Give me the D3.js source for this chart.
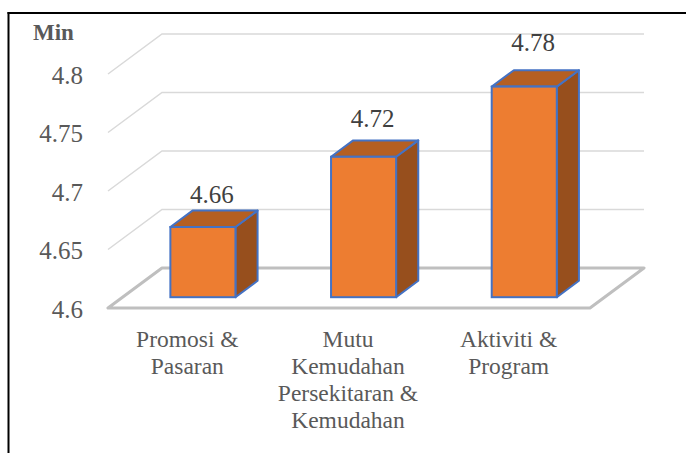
<!DOCTYPE html>
<html>
<head>
<meta charset="utf-8">
<script src="https://cdn.jsdelivr.net/npm/d3@7"></script>
<style>
  body { margin: 0; background: #fff; }
</style>
</head>
<body>
<div id="graph"></div>
<script>
// Data
const categories = [
  ["Promosi &", "Pasaran"],
  ["Mutu", "Kemudahan", "Persekitaran &", "Kemudahan"],
  ["Aktiviti &", "Program"]
];
const values = [4.66, 4.72, 4.78];
const yTicks = [4.6, 4.65, 4.7, 4.75, 4.8];
const axisTitle = "Min";

const FONT = "'Liberation Serif', 'Times New Roman', serif";

// Width and height of the svg area
const w = 686;
const h = 453;

// depth of the 3d floor (screen offset from front to back)
const DX = 54;
const DY = 40;
// bar sits between these depth fractions
const d0 = 0.27;
const d1 = 0.68;

const svg = d3.select("#graph")
  .append("svg")
  .attr("width", w)
  .attr("height", h)
  .attr("font-family", FONT);

// Scales
const xScale = d3.scaleBand()
  .domain(d3.range(categories.length))
  .range([108, 590])
  .padding(0);

const yScale = d3.scaleLinear()
  .domain([4.6, 4.8])
  .range([308, 74]);

const barW = xScale.bandwidth() * 0.405;

// Back wall gridlines + side wall diagonals
const grid = svg.append("g");
yTicks.slice(1).forEach(t => {
  const y = yScale(t);
  grid.append("polyline")
    .attr("points", [[108, y], [108 + DX, y - DY], [590 + DX, y - DY]].join(" "))
    .attr("fill", "none")
    .attr("stroke", "#d9d9d9")
    .attr("stroke-width", 1.5);
});

// Floor
const y0 = yScale(4.6);
svg.append("polygon")
  .attr("points", [[108, y0], [590, y0], [590 + DX, y0 - DY], [108 + DX, y0 - DY]].join(" "))
  .attr("fill", "none")
  .attr("stroke", "#bfbfbf")
  .attr("stroke-width", 3)
  .attr("stroke-linejoin", "round");

// Bars
const bars = svg.append("g");
values.forEach((v, i) => {
  const cx = xScale(i) + xScale.bandwidth() / 2;
  const x1 = cx - barW / 2 + d0 * DX;
  const x2 = x1 + barW;
  const yb = yScale(4.6) - d0 * DY;
  const yt = yScale(v) - d0 * DY;
  const ddx = (d1 - d0) * DX;
  const ddy = (d1 - d0) * DY;

  // side
  bars.append("polygon")
    .attr("points", [[x2, yt], [x2 + ddx, yt - ddy], [x2 + ddx, yb - ddy], [x2, yb]].join(" "))
    .attr("fill", "#974f1d")
    .attr("stroke", "#4472c4")
    .attr("stroke-width", 2)
    .attr("stroke-linejoin", "round");
  // top
  bars.append("polygon")
    .attr("points", [[x1, yt], [x1 + ddx, yt - ddy], [x2 + ddx, yt - ddy], [x2, yt]].join(" "))
    .attr("fill", "#b55f22")
    .attr("stroke", "#4472c4")
    .attr("stroke-width", 2)
    .attr("stroke-linejoin", "round");
  // front
  bars.append("rect")
    .attr("x", x1)
    .attr("y", yt)
    .attr("width", barW)
    .attr("height", yb - yt)
    .attr("fill", "#ed7d31")
    .attr("stroke", "#4472c4")
    .attr("stroke-width", 2);

  // value label
  svg.append("text")
    .attr("x", (x1 + x2) / 2 + 9)
    .attr("y", yt - (18 + (yb - yt) / 11.7))
    .attr("text-anchor", "middle")
    .attr("fill", "#404040")
    .style("font-size", "25px")
    .text(v.toFixed(2));
});

// Y tick labels
svg.append("g")
  .selectAll("text")
  .data(yTicks)
  .enter()
  .append("text")
  .attr("x", 83)
  .attr("y", d => yScale(d))
  .attr("dy", "0.38em")
  .attr("text-anchor", "end")
  .attr("fill", "#595959")
  .style("font-size", "25px")
  .text(d => d);

// Axis title
svg.append("text")
  .attr("x", 33)
  .attr("y", 40)
  .attr("fill", "#595959")
  .style("font-size", "23px")
  .style("font-weight", "bold")
  .text(axisTitle);

// Category labels
categories.forEach((lines, i) => {
  const t = svg.append("text")
    .attr("text-anchor", "middle")
    .attr("fill", "#595959")
    .style("font-size", "23.5px");
  lines.forEach((line, j) => {
    t.append("tspan")
      .attr("x", xScale(i) + xScale.bandwidth() / 2 - 1)
      .attr("y", 347 + j * 27)
      .text(line);
  });
});

// Frame (left and top edges)
svg.append("line")
  .attr("x1", 8.5).attr("y1", 12).attr("x2", 8.5).attr("y2", h)
  .attr("stroke", "#000").attr("stroke-width", 2);
svg.append("line")
  .attr("x1", 7.5).attr("y1", 13).attr("x2", w).attr("y2", 13)
  .attr("stroke", "#000").attr("stroke-width", 2);
</script>
</body>
</html>
